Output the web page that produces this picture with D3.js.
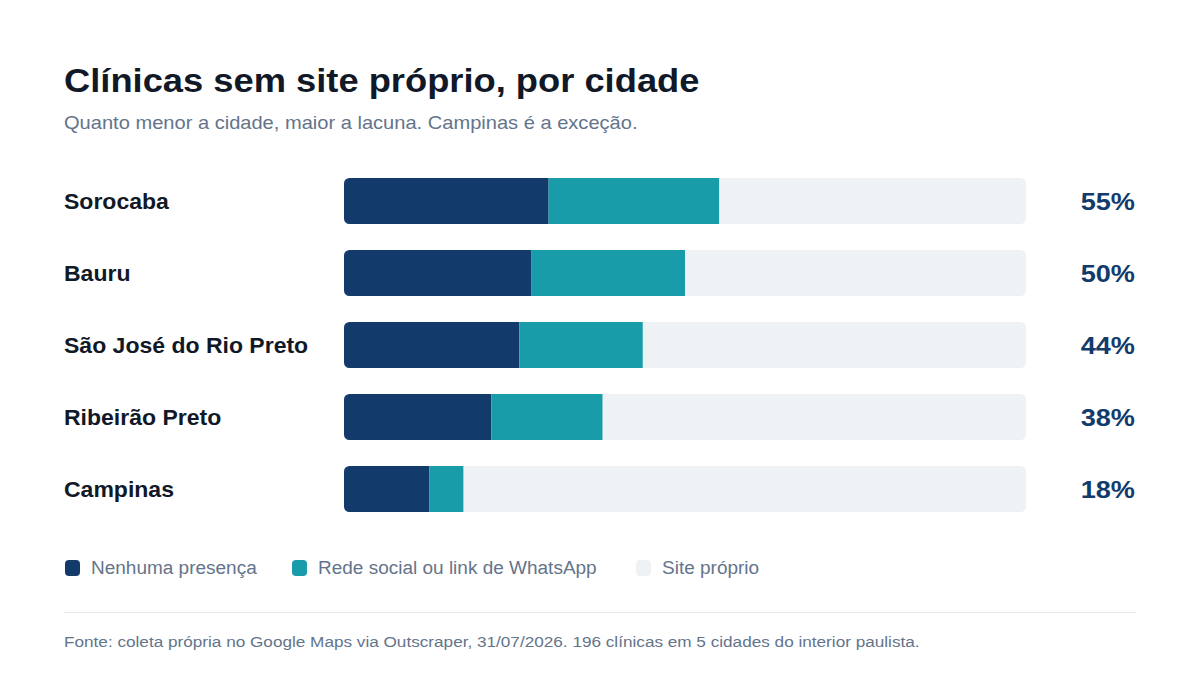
<!DOCTYPE html>
<html><head><meta charset="utf-8">
<script src="https://cdn.jsdelivr.net/npm/d3@7"></script>
<style>body{margin:0;background:#fff;font-family:"Liberation Sans",Arial,Helvetica,sans-serif;}</style>
</head><body><svg id="c" width="1200" height="680"></svg>
<script>
const cities = ["Sorocaba","Bauru","São José do Rio Preto","Ribeirão Preto","Campinas"];
const nenhuma = [30, 27.5, 25.7, 21.6, 12.5];
const social = [25, 22.5, 18.1, 16.3, 5.0];
const totalLabels = ["55%","50%","44%","38%","18%"];
const seriesNames = ["Nenhuma presença","Rede social ou link de WhatsApp","Site próprio"];
const colors = ["#123b6c","#189ca9","#eef2f5"];

const svg = d3.select("#c");
const x = d3.scaleLinear().domain([0,100]).range([344,1026]);
const y = d3.scaleBand().domain(cities).range([178, 512]).paddingInner(26/72).paddingOuter(0).align(0);
const bh = y.bandwidth();

// horizontal stretch to emulate the wider reference typeface
function stretch(sel, k){
  sel.each(function(){
    const w = this.getComputedTextLength();
    if (w > 0) d3.select(this).attr("textLength", w*k).attr("lengthAdjust","spacingAndGlyphs");
  });
  return sel;
}

stretch(svg.append("text").attr("x",64).attr("y",92).attr("font-size",33).attr("font-weight",700)
  .attr("fill","#111827").text("Clínicas sem site próprio, por cidade"), 1.10);
stretch(svg.append("text").attr("x",64).attr("y",129).attr("font-size",18.5).attr("fill","#64748b")
  .text("Quanto menor a cidade, maior a lacuna. Campinas é a exceção."), 1.085);

const defs = svg.append("defs");
cities.forEach((c,i)=>{
  const yy = y(c);
  defs.append("clipPath").attr("id","clip"+i).append("rect")
    .attr("x",x(0)).attr("y",yy).attr("width",x(100)-x(0)).attr("height",bh).attr("rx",5.5);
  const g = svg.append("g").attr("clip-path",`url(#clip${i})`);
  g.append("rect").attr("x",x(0)).attr("y",yy).attr("width",x(100)-x(0)).attr("height",bh).attr("fill",colors[2]);
  g.append("rect").attr("x",x(0)).attr("y",yy).attr("width",x(nenhuma[i])-x(0)).attr("height",bh).attr("fill",colors[0]);
  g.append("rect").attr("x",x(nenhuma[i])).attr("y",yy).attr("width",x(nenhuma[i]+social[i])-x(nenhuma[i])).attr("height",bh).attr("fill",colors[1]);
  stretch(svg.append("text").attr("x",64).attr("y",yy+bh/2+8).attr("font-size",21.5).attr("font-weight",700)
    .attr("fill","#111827").text(c), 1.07);
  const t = svg.append("text").attr("x",1135).attr("y",yy+bh/2+8.5).attr("text-anchor","end").attr("font-size",24).attr("font-weight",700)
    .attr("fill","#123b6c").text(totalLabels[i]);
  const w = t.node().getComputedTextLength();
  t.attr("x", 1135 - w*1.13).attr("text-anchor","start");
  stretch(t, 1.13);
});

const legX = [65, 292, 636];
seriesNames.forEach((s,i)=>{
  svg.append("rect").attr("x",legX[i]).attr("y",560).attr("width",15).attr("height",16).attr("rx",4).attr("fill",colors[i]);
  stretch(svg.append("text").attr("x",legX[i]+26).attr("y",574).attr("font-size",18).attr("fill","#64748b").text(s), 1.055);
});

svg.append("line").attr("x1",64).attr("x2",1136).attr("y1",612.5).attr("y2",612.5).attr("stroke","#e5e7eb").attr("stroke-width",1);
stretch(svg.append("text").attr("x",64).attr("y",647).attr("font-size",15.5).attr("fill","#64748b")
  .text("Fonte: coleta própria no Google Maps via Outscraper, 31/07/2026. 196 clínicas em 5 cidades do interior paulista."), 1.107);
</script></body></html>
